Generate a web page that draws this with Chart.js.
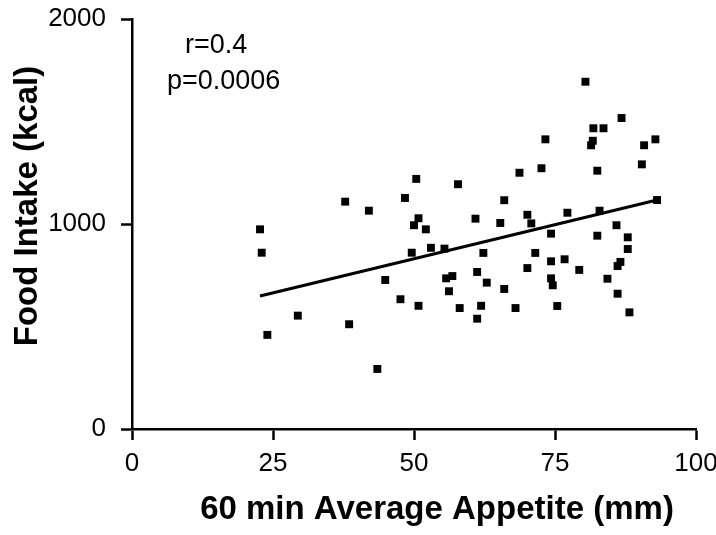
<!DOCTYPE html>
<html>
<head>
<meta charset="utf-8">
<script src="https://cdn.jsdelivr.net/npm/chart.js@4"></script>
<style>
  body { margin: 0; background: #fff; }
</style>
</head>
<body>
<canvas id="appetiteChart" width="716" height="535"></canvas>
<script>
// appetite (mm) and food intake (kcal) for each subject
const appetite = [22.7, 23.0, 24.0, 29.4, 37.8, 42.0, 38.5, 43.5, 50.4, 57.8,
    68.7, 72.6, 48.4, 66.0, 50.8, 50.0, 52.1, 60.9, 65.3, 70.1,
    70.8, 49.6, 53.0, 55.4, 62.3, 71.5, 44.9, 55.7, 56.8, 56.2,
    61.2, 62.9, 66.0, 70.1, 47.6, 50.8, 58.1, 61.9, 61.2, 68.0,
    80.4, 86.8, 81.8, 83.6, 73.3, 81.7, 81.4, 90.8, 92.8, 82.5,
    90.4, 93.1, 77.2, 82.9, 85.9, 74.3, 82.5, 87.9, 87.9, 74.3,
    76.7, 79.3, 86.6, 86.1, 74.3, 74.6, 84.3, 86.1, 75.4, 88.2];
const intake = [974, 860, 459, 553, 1109, 1065, 511, 293, 1220, 1194,
    1250, 1272, 1127, 1116, 1028, 994, 974, 1026, 1005, 1045,
    1003, 860, 884, 880, 859, 859, 727, 735, 746, 672,
    766, 714, 683, 785, 633, 601, 590, 601, 538, 590,
    1694, 1517, 1467, 1467, 1413, 1406, 1384, 1384, 1413, 1260,
    1291, 1117, 1055, 1065, 994, 953, 943, 935, 878, 818,
    828, 776, 815, 795, 735, 701, 733, 660, 600, 569];

// regression line end points
const fitX = [22.7, 93.1];
const fitY = [649, 1117];

const xTicks = [0, 25, 50, 75, 100];
const yTicks = [0, 1000, 2000];

const statsText = ["r=0.4", "p=0.0006"];
const xTitle = "60 min Average Appetite (mm)";
const yTitle = "Food Intake (kcal)";

const sans = "'Liberation Sans', Arial, sans-serif";

const textPlugin = {
    id: "textPlugin",
    afterDraw(chart) {
        const c = chart.ctx;
        c.save();
        c.fillStyle = "#000";
        c.font = "bold 33px " + sans;
        c.textAlign = "center";
        c.textBaseline = "middle";
        c.fillText(xTitle, 437, 510);
        c.translate(28, 206);
        c.rotate(-Math.PI / 2);
        c.fillText(yTitle, 0, 0);
        c.restore();

        c.save();
        c.fillStyle = "#000";
        c.font = "27px " + sans;
        c.textAlign = "left";
        c.textBaseline = "alphabetic";
        c.fillText(statsText[0], 185, 53);
        c.fillText(statsText[1], 167, 89);
        c.restore();
    }
};

function noPad(s) {
    s.paddingTop = 0;
    s.paddingBottom = 0;
    s.paddingLeft = 0;
    s.paddingRight = 0;
}

new Chart(document.getElementById("appetiteChart"), {
    type: "scatter",
    data: {
        datasets: [{
            label: "Subjects",
            data: appetite.map((v, i) => ({ x: v, y: intake[i] })),
            backgroundColor: "#000",
            borderWidth: 0,
            pointStyle: "rect",
            pointRadius: 5.6,
            pointHoverRadius: 5.6
        }, {
            label: "Fit",
            type: "line",
            data: fitX.map((v, i) => ({ x: v, y: fitY[i] })),
            borderColor: "#000",
            borderWidth: 3,
            pointRadius: 0,
            fill: false
        }]
    },
    options: {
        responsive: false,
        animation: false,
        layout: { padding: { top: 19, right: 20, left: 0, bottom: 0 } },
        plugins: {
            legend: { display: false },
            tooltip: { enabled: false }
        },
        scales: {
            x: {
                type: "linear",
                min: 0,
                max: 100,
                afterBuildTicks: (s) => { s.ticks = xTicks.map(v => ({ value: v })); },
                afterFit: (s) => { s.height = 106; noPad(s); },
                ticks: {
                    color: "#000",
                    padding: 8,
                    maxRotation: 0,
                    callback: (v) => String(v),
                    font: { family: sans, size: 26 }
                },
                grid: {
                    drawOnChartArea: false,
                    tickLength: 11,
                    tickWidth: 2.5,
                    tickColor: "#000"
                },
                border: { color: "#000", width: 2.5 }
            },
            y: {
                type: "linear",
                min: 0,
                max: 2000,
                afterBuildTicks: (s) => { s.ticks = yTicks.map(v => ({ value: v })); },
                afterFit: (s) => { s.width = 132; noPad(s); },
                ticks: {
                    color: "#000",
                    padding: 15,
                    callback: (v) => String(v),
                    font: { family: sans, size: 26 }
                },
                grid: {
                    drawOnChartArea: false,
                    tickLength: 11,
                    tickWidth: 2.5,
                    tickColor: "#000"
                },
                border: { color: "#000", width: 2.5 }
            }
        }
    },
    plugins: [textPlugin]
});
</script>
</body>
</html>
